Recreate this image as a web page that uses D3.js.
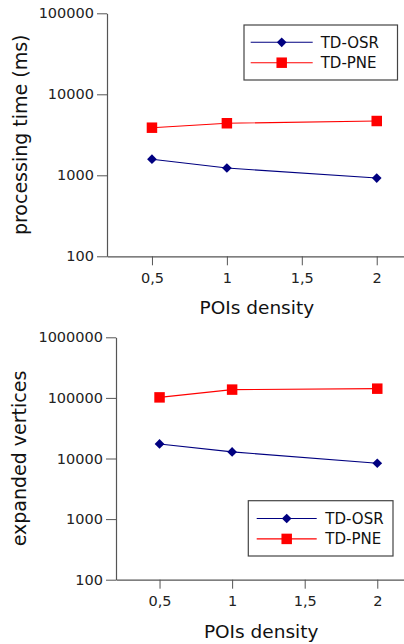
<!DOCTYPE html>
<html><head><meta charset="utf-8">
<script src="https://cdn.jsdelivr.net/npm/d3@7"></script>
<style>
html,body{margin:0;padding:0;background:#fff;}
svg{display:block;font-family:"DejaVu Sans",sans-serif;}
</style></head>
<body>
<svg id="c" width="404" height="644"></svg>
<script>
// ---- data ----
const densities = [0.5, 1, 2];
const xTicks = [0.5, 1, 1.5, 2];
const xTickLabels = ["0,5", "1", "1,5", "2"];
const seriesNames = ["TD-OSR", "TD-PNE"];
const timeOSR = [1580, 1230, 925];
const timePNE = [3870, 4390, 4680];
const vertOSR = [17400, 12850, 8350];
const vertPNE = [102000, 137000, 142000];
const timeTicks = [100, 1000, 10000, 100000];
const vertTicks = [100, 1000, 10000, 100000, 1000000];

const colors = {"TD-OSR": "#000080", "TD-PNE": "#ff0000"};
const svg = d3.select("#c");

function panel(cfg) {
  const x = d3.scaleLinear().domain([0.2, 2.2]).range([cfg.left, cfg.right]);
  const y = d3.scaleLog().domain([cfg.ticks[0], cfg.ticks[cfg.ticks.length-1]]).range([cfg.bottom, cfg.top]);
  const g = svg.append("g");

  const ya = g.append("g").attr("transform", `translate(${cfg.left},0)`)
    .call(d3.axisLeft(y).tickValues(cfg.ticks).tickFormat(d3.format("d")).tickSize(10).tickSizeOuter(0).tickPadding(3));
  const xa = g.append("g").attr("transform", `translate(0,${cfg.bottom})`)
    .call(d3.axisBottom(x).tickValues(xTicks).tickFormat((d,i)=>xTickLabels[i]).tickSize(9).tickSizeOuter(0).tickPadding(7));
  [ya, xa].forEach(a => {
    a.select(".domain").attr("stroke", "#555").attr("stroke-width", 1.2);
    a.selectAll(".tick line").attr("stroke", "#555");
    a.selectAll("text").attr("fill", "#222").style("font-size", "14.5px").style("font-family", "DejaVu Sans");
  });

  g.append("text").attr("x", (cfg.left + cfg.right) / 2).attr("y", cfg.xTitleY)
    .attr("text-anchor", "middle").style("font-size", "18.5px").attr("fill", "#111").text("POIs density");
  g.append("text").attr("transform", `translate(${cfg.yTitleX},${(cfg.top + cfg.bottom) / 2}) rotate(-90)`)
    .attr("text-anchor", "middle").style("font-size", "19px").attr("fill", "#111").text(cfg.yTitle);

  const line = d3.line().x((d,i)=>x(densities[i])).y(d=>y(d));
  const sym = {"TD-OSR": d3.symbol().type(d3.symbolDiamond2).size(60), "TD-PNE": d3.symbol().type(d3.symbolSquare).size(110)};
  cfg.series.forEach((vals, k) => {
    const name = seriesNames[k];
    g.append("path").datum(vals).attr("d", line).attr("fill", "none").attr("stroke", colors[name]).attr("stroke-width", 1.1);
    g.selectAll(null).data(vals).enter().append("path")
      .attr("d", sym[name]).attr("transform", (d,i)=>`translate(${x(densities[i])},${y(d)})`)
      .attr("fill", colors[name]);
  });

  // legend
  const L = cfg.legend;
  g.append("rect").attr("x", L.x).attr("y", L.y).attr("width", L.w).attr("height", L.h)
    .attr("fill", "#fff").attr("stroke", "#444").attr("stroke-width", 1.2);
  seriesNames.forEach((name, k) => {
    const ry = L.y + L.row0 + k * L.rowStep;
    g.append("line").attr("x1", L.x + L.lx0).attr("x2", L.x + L.lx1).attr("y1", ry).attr("y2", ry)
      .attr("stroke", colors[name]).attr("stroke-width", 1.1);
    g.append("path").attr("d", sym[name]).attr("transform", `translate(${L.x + (L.lx0 + L.lx1) / 2},${ry})`).attr("fill", colors[name]);
    g.append("text").attr("x", L.x + L.tx).attr("y", ry).attr("dy", "0.36em")
      .style("font-size", "15px").attr("fill", "#111").text(name);
  });
}

panel({left: 107, right: 406.7, top: 13.3, bottom: 256.3, ticks: timeTicks,
  series: [timeOSR, timePNE], yTitle: "processing time (ms)", xTitleY: 314, yTitleX: 27,
  legend: {x: 244, y: 25, w: 153.5, h: 55, row0: 17.3, rowStep: 20.4, lx0: 6.7, lx1: 68.7, tx: 76.7}});

panel({left: 116, right: 406.3, top: 337.3, bottom: 579.7, ticks: vertTicks,
  series: [vertOSR, vertPNE], yTitle: "expanded vertices", xTitleY: 637.7, yTitleX: 25.5,
  legend: {x: 248.3, y: 500.7, w: 144.7, h: 55.3, row0: 17.8, rowStep: 20.4, lx0: 8.4, lx1: 68.4, tx: 77}});
</script>
</body></html>
